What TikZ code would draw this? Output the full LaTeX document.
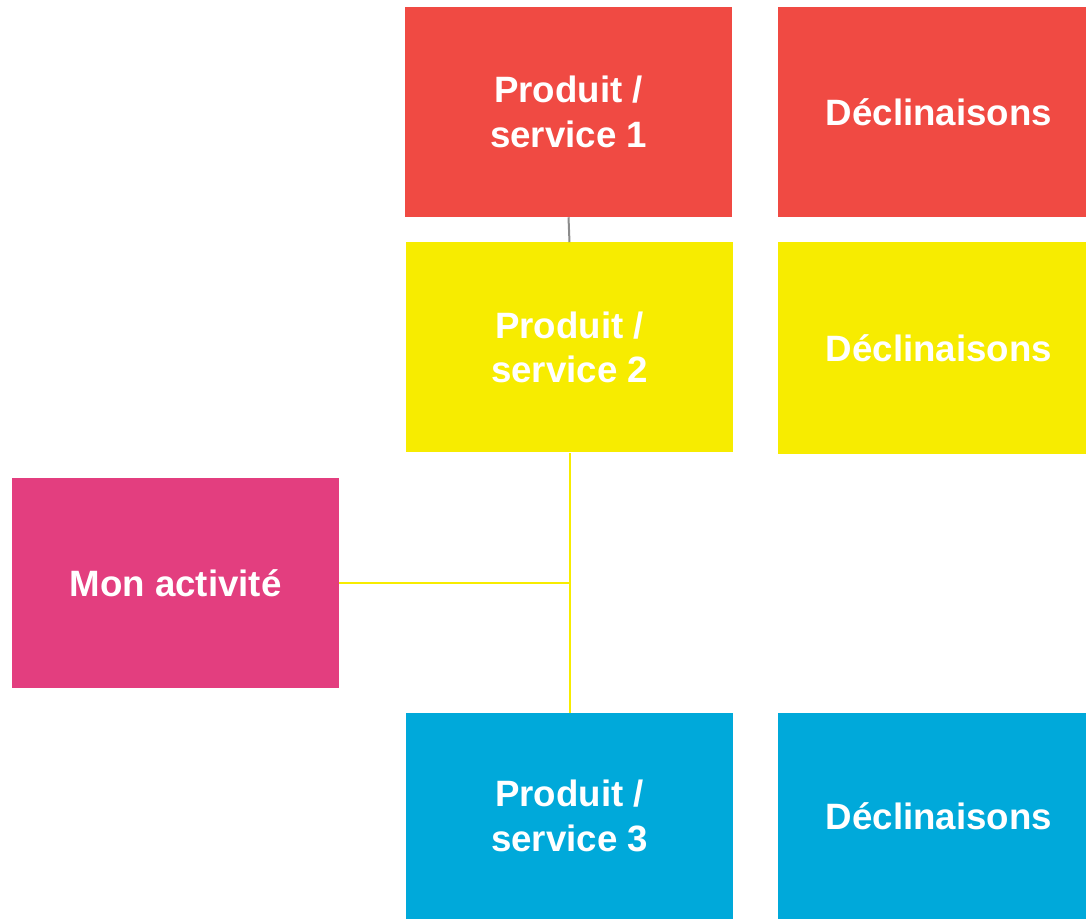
\documentclass[tikz,border=0pt]{standalone}
\usepackage{fontspec}
\setmainfont{Liberation Sans}
\usetikzlibrary{positioning}
\definecolor{rouge}{HTML}{F04A43}
\definecolor{jaune}{HTML}{F7EC00}
\definecolor{rose}{HTML}{E33E7F}
\definecolor{bleu}{HTML}{00A9DA}
\definecolor{gris}{HTML}{8C8C8C}
\newcommand{\decltxt}{\hspace*{10.5pt}D\'eclinaisons}
\begin{document}
\begin{tikzpicture}[x=0.75pt,y=-0.75pt]
		\tikzstyle{every node}+=[inner sep=0pt]
		\tikzstyle{bloc}=[draw=none,text=white,align=center,
			font=\fontsize{27.5}{33.5}\selectfont\bfseries,
			minimum width=245.25pt,minimum height=157.5pt]
		\tikzstyle{decl}=[bloc,minimum width=231pt]
		\useasboundingbox (0,0) rectangle (1086,919);
		% produits / services
		\node [bloc,fill=rouge] (p1) at (568.5,112) {Produit /\\service 1};
		\node [bloc,fill=jaune] (p2) at (569.5,347.5) {Produit /\\service 2};
		\node [bloc,fill=bleu,minimum height=154.5pt] (p3) at (569.5,816) {Produit /\\service 3};
		% declinaisons
		\node [decl,fill=rouge] (d1) at (932,112) {\decltxt};
		\node [decl,fill=jaune,minimum height=159pt] (d2) at (932,348) {\decltxt};
		\node [decl,fill=bleu,minimum height=154.5pt] (d3) at (932,816) {\decltxt};
		% activite
		\node [bloc,fill=rose] (act) at (175.5,583) {Mon activit\'e};
		% liens
		\draw [gris,line width=1.5pt] (p1.south) -- (p2.north);
		\draw [jaune,line width=1.5pt] (p2.south) -- (p3.north);
		\draw [jaune,line width=1.5pt] (act.east) -- (act.east -| p2.south);
\end{tikzpicture}
\end{document}
